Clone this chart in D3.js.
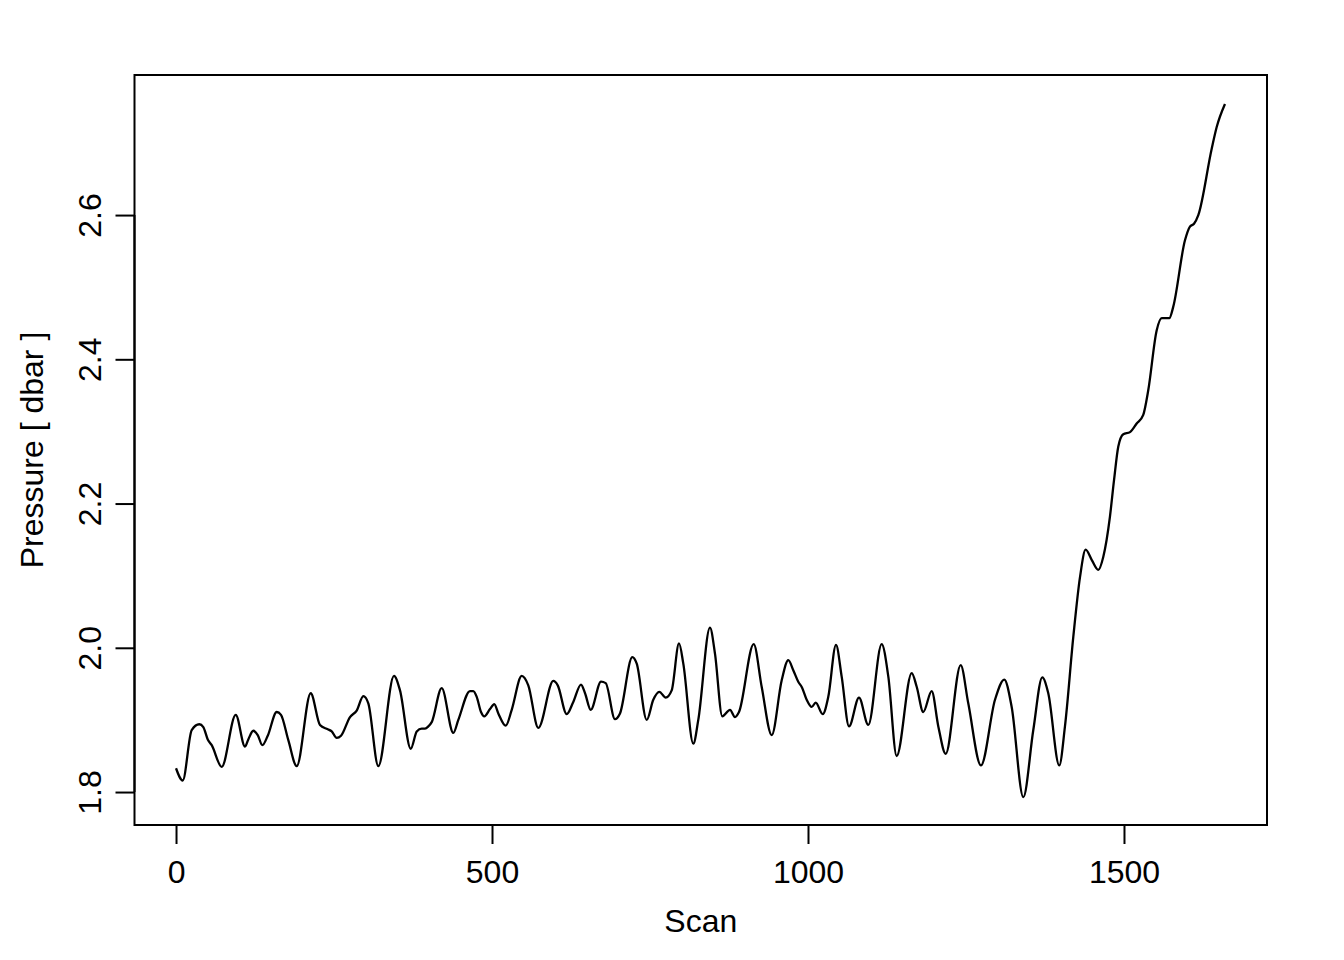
<!DOCTYPE html>
<html>
<head>
<meta charset="utf-8">
<script src="https://cdn.jsdelivr.net/npm/d3@7"></script>
<style>
  body { margin: 0; background: #fff; }
  text { font-family: "Liberation Sans", Arial, sans-serif; fill: #000; }
</style>
</head>
<body>
<script>
// values
var scan = [0, 10.6, 24.8, 36.9, 43.2, 50.2, 56.5, 72.3, 94.5, 109.2, 114.4, 122.3, 129.3, 136.6, 145.1,
  159.3, 166.1, 177.7, 191.0, 213.1, 227.8, 240.0, 246.4, 254.3, 261.1, 275.3, 285.9, 296.4, 304.3,
  320.1, 344.9, 354.4, 371.4, 380.9, 388.8, 394.0, 399.2, 404.6, 420.4, 438.8, 446.7, 465.2, 470.4,
  475.8, 482.6, 487.8, 496.8, 503.6, 510.0, 521.7, 531.2, 547.0, 557.4, 573.3, 597.0, 604.0, 618.2,
  628.6, 640.8, 647.2, 656.2, 672.5, 679.9, 694.6, 702.5, 722.0, 729.0, 744.8, 755.2, 764.7, 774.8,
  784.3, 795.9, 802.7, 818.5, 826.4, 844.9, 852.8, 864.4, 876.6, 884.5, 890.8, 914.1, 926.7, 942.6,
  958.4, 968.8, 976.7, 984.6, 990.5, 997.9, 1005.9, 1012.2, 1023.3, 1032.1, 1044.3, 1053.3, 1064.9, 1080.7,
  1095.4, 1116.6, 1127.1, 1140.3, 1164.1, 1172.0, 1182.4, 1195.7, 1206.2, 1217.9, 1241.6, 1253.6,
  1273.7, 1295.9, 1310.6, 1322.3, 1340.7, 1356.5, 1370.7, 1380.2, 1397.6, 1406.6, 1419.8, 1430.4,
  1439.4, 1448.9, 1459.3, 1467.2, 1477.8, 1484.2, 1491.0, 1498.9, 1509.5, 1520.1, 1530.5, 1538.4,
  1551.7, 1559.7, 1571.7, 1578.0, 1596.5, 1604.4, 1610.8, 1617.6, 1638.8, 1646.7, 1659.8];

var pressure = [1.833, 1.816, 1.886, 1.894, 1.890, 1.873, 1.865, 1.835, 1.907, 1.863, 1.873, 1.885, 1.879, 1.865, 1.878,
  1.911, 1.907, 1.872, 1.836, 1.937, 1.893, 1.887, 1.884, 1.875, 1.878, 1.904, 1.913, 1.933, 1.923,
  1.836, 1.961, 1.941, 1.860, 1.884, 1.888, 1.888, 1.891, 1.897, 1.944, 1.882, 1.900, 1.940, 1.940,
  1.932, 1.911, 1.905, 1.915, 1.922, 1.909, 1.892, 1.914, 1.961, 1.948, 1.889, 1.954, 1.948, 1.908,
  1.925, 1.949, 1.937, 1.914, 1.953, 1.951, 1.901, 1.909, 1.987, 1.978, 1.900, 1.928, 1.939, 1.931,
  1.941, 2.006, 1.978, 1.867, 1.900, 2.028, 1.992, 1.905, 1.914, 1.904, 1.911, 2.005, 1.946, 1.879,
  1.955, 1.983, 1.969, 1.953, 1.945, 1.928, 1.918, 1.924, 1.908, 1.932, 2.004, 1.960, 1.891, 1.931,
  1.893, 2.005, 1.960, 1.850, 1.965, 1.946, 1.911, 1.940, 1.891, 1.853, 1.976, 1.923,
  1.837, 1.928, 1.956, 1.918, 1.793, 1.886, 1.959, 1.937, 1.837, 1.891, 2.015, 2.098,
  2.136, 2.122, 2.108, 2.126, 2.182, 2.232, 2.279, 2.296, 2.299, 2.311, 2.323, 2.357,
  2.440, 2.457, 2.457, 2.473, 2.565, 2.584, 2.588, 2.600, 2.692, 2.722, 2.754];

var xTicks = [0, 500, 1000, 1500];
var yTicks = [1.8, 2.0, 2.2, 2.4, 2.6];

var W = 1344, H = 960;
var plotL = 134.5, plotR = 1267, plotT = 75, plotB = 825;

var svg = d3.select('body').append('svg')
  .attr('width', W)
  .attr('height', H);

var x = d3.scaleLinear().domain([-65.7, 1726.3]).range([plotL, plotR]);
var y = d3.scaleLinear().domain([1.7543, 2.7942]).range([plotB, plotT]);

var data = scan.map(function(s, i) { return {s: s, p: pressure[i]}; });

var line = d3.line()
  .x(function(d) { return x(d.s); })
  .y(function(d) { return y(d.p); })
  .curve(d3.curveMonotoneX);

svg.append('path')
  .datum(data)
  .attr('d', line)
  .attr('fill', 'none')
  .attr('stroke', '#000')
  .attr('stroke-width', 2.3)
  .attr('stroke-linejoin', 'round');

// box
svg.append('rect')
  .attr('x', plotL).attr('y', plotT)
  .attr('width', plotR - plotL).attr('height', plotB - plotT)
  .attr('fill', 'none').attr('stroke', '#000').attr('stroke-width', 2);

// x axis
var xAxis = d3.axisBottom(x).tickValues(xTicks).tickSize(19).tickPadding(15)
  .tickFormat(d3.format('d'));
var gx = svg.append('g').attr('transform', 'translate(0,' + plotB + ')').call(xAxis);
gx.select('.domain').attr('d', 'M' + x(0) + ',0H' + x(1500)).attr('stroke-width', 2);
gx.selectAll('.tick line').attr('stroke-width', 2);
gx.selectAll('.tick text')
  .attr('font-size', 32)
  .attr('font-family', '"Liberation Sans", Arial, sans-serif')
  .attr('fill', '#000')
  .attr('dy', null).attr('y', 58);

// y axis with rotated labels
var yAxis = d3.axisLeft(y).tickValues(yTicks).tickSize(19)
  .tickFormat(d3.format('.1f'));
var gy = svg.append('g').attr('transform', 'translate(' + plotL + ',0)').call(yAxis);
gy.select('.domain').attr('d', 'M0,' + y(1.8) + 'V' + y(2.6)).attr('stroke-width', 2);
gy.selectAll('.tick line').attr('stroke-width', 2);
gy.selectAll('.tick text')
  .attr('font-size', 32)
  .attr('font-family', '"Liberation Sans", Arial, sans-serif')
  .attr('fill', '#000')
  .attr('x', null).attr('dy', null)
  .attr('text-anchor', 'middle')
  .attr('transform', 'translate(-34,0) rotate(-90)');

// titles
svg.append('text')
  .attr('x', (plotL + plotR) / 2).attr('y', 932)
  .attr('text-anchor', 'middle')
  .attr('font-size', 32)
  .text('Scan');

svg.append('text')
  .attr('transform', 'translate(43,' + ((plotT + plotB) / 2) + ') rotate(-90)')
  .attr('text-anchor', 'middle')
  .attr('font-size', 32)
  .text('Pressure [ dbar ]');
</script>
</body>
</html>
